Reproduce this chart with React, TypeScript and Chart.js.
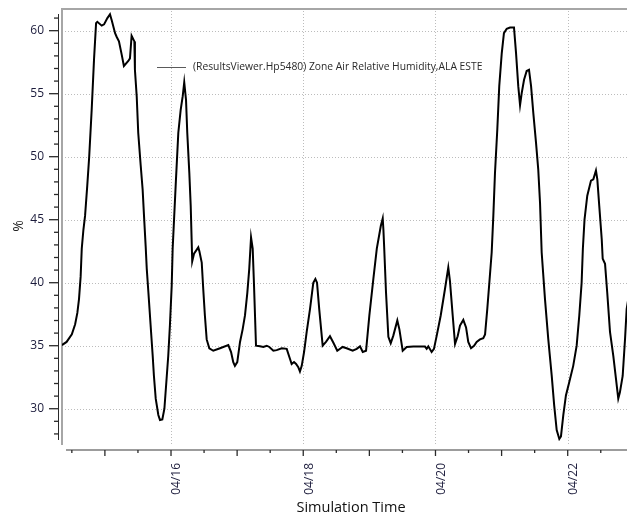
import React, { useEffect, useRef } from 'react';
import { Chart, registerables } from 'chart.js';

Chart.register(...registerables);

// Hours since 04/14 00:00
const hours = [
  8.4, 10.1, 12.0, 13.2, 14.0, 14.6, 15.2, 15.6, 16.2, 16.8, 17.6, 18.3, 19.2, 20.05, 20.8, 21.25,
  22.85, 23.7, 24.9, 25.85, 26.5, 27.7, 28.3, 29.1, 30.1, 30.9, 32.5, 33.1, 33.7, 34.7, 34.9, 35.55,
  36.1, 37.0, 37.7, 38.2, 38.8, 39.2, 39.8, 40.6, 41.35, 41.8, 42.45, 43.4, 44.0, 44.85, 45.6, 46.4,
  47.0, 47.6, 48.25, 48.6, 49.1, 49.8, 50.65, 51.5, 52.25, 52.8, 53.45, 53.9, 54.65, 55.15, 55.7, 56.35,
  57.9, 58.3, 59.15, 59.7, 60.3, 60.95, 61.9, 63.35, 65.8, 68.8, 69.8, 70.6, 71.2, 72.05, 73.05, 74.0,
  74.85, 75.7, 76.4, 77.05, 77.65, 78.1, 78.85, 80.3, 81.5, 82.75, 83.7, 85.15, 86.35, 88.2, 90.0, 91.2,
  91.8, 92.65, 93.4, 94.2, 94.8, 95.45, 96.3, 97.25, 98.45, 99.65, 100.4, 101.0, 101.8, 103.05, 104.25, 105.7,
  106.9, 108.35, 110.3, 111.75, 113.95, 115.4, 116.6, 117.6, 118.8, 120.0, 121.45, 122.7, 124.15, 124.85, 125.1, 125.4,
  126.05, 126.9, 127.75, 128.7, 130.15, 130.9, 132.1, 133.55, 135.95, 138.4, 140.2, 140.8, 141.4, 142.6, 143.45, 144.45,
  145.9, 147.45, 148.65, 149.25, 150.25, 151.1, 152.05, 152.9, 154.1, 155.1, 155.9, 156.9, 158.0, 158.95, 160.15, 161.35,
  162.0, 162.8, 163.55, 164.4, 165.0, 165.6, 166.45, 167.15, 168.05, 168.85, 169.85, 171.05, 172.5, 173.25, 174.05, 174.7,
  175.3, 176.15, 177.1, 177.95, 178.7, 179.5, 180.5, 181.3, 181.95, 182.55, 183.75, 184.95, 186.2, 187.1, 188.0, 188.95,
  189.55, 190.4, 191.35, 192.55, 194.0, 195.25, 196.2, 197.05, 197.5, 198.1, 199.1, 200.45, 201.3, 202.25, 202.75, 203.45,
  204.35, 204.7, 205.55, 206.35, 207.35, 208.55, 209.5, 210.35, 210.95, 211.95, 212.8, 213.4, 215.3, 218.5,
];

// Zone Air Relative Humidity (%)
const humidity = [
  35.05, 35.3, 35.9, 36.7, 37.6, 38.7, 40.5, 42.7, 44.2, 45.3, 47.7, 50.0, 53.7, 57.7, 60.6, 60.7,
  60.4, 60.5, 61.0, 61.3, 60.8, 59.8, 59.5, 59.15, 58.1, 57.2, 57.6, 57.8, 59.6, 59.15, 56.9, 54.8,
  51.9, 49.3, 47.4, 45.3, 42.9, 41.1, 39.2, 36.6, 34.2, 32.6, 30.8, 29.5, 29.1, 29.15, 30.0, 32.4,
  34.2, 36.6, 39.75, 42.7, 45.0, 48.2, 51.9, 53.7, 54.8, 55.9, 54.5, 51.9, 48.7, 46.1, 41.7, 42.3,
  42.8, 42.5, 41.6, 39.5, 37.4, 35.5, 34.8, 34.6, 34.8, 35.05, 34.5, 33.7, 33.4, 33.7, 35.3, 36.3,
  37.4, 39.2, 41.1, 43.6, 42.7, 40.0, 35.0, 34.95, 34.9, 35.0, 34.9, 34.6, 34.65, 34.8, 34.75, 33.95,
  33.55, 33.7, 33.55, 33.3, 32.95, 33.4, 34.5, 36.1, 37.9, 40.0, 40.3, 40.0, 37.9, 35.0, 35.3, 35.75,
  35.25, 34.6, 34.9, 34.8, 34.6, 34.75, 34.95, 34.5, 34.6, 37.4, 40.3, 42.7, 44.5, 45.1, 44.2, 42.7,
  39.2, 35.7, 35.2, 35.8, 37.0, 36.3, 34.6, 34.9, 34.93, 34.93, 34.93, 34.75, 34.95, 34.5, 34.75, 35.8,
  37.4, 39.5, 41.2, 40.15, 37.4, 35.15, 35.75, 36.6, 37.05, 36.45, 35.3, 34.8, 35.0, 35.3, 35.5, 35.6,
  35.9, 37.9, 40.0, 42.4, 45.3, 48.7, 52.2, 55.6, 58.2, 59.8, 60.15, 60.25, 60.25, 58.2, 55.6, 54.1,
  55.05, 56.1, 56.8, 56.9, 55.6, 53.5, 51.1, 49.0, 46.35, 42.4, 38.7, 35.5, 32.6, 30.25, 28.3, 27.6,
  27.8, 29.5, 31.05, 32.1, 33.4, 35.0, 37.4, 40.0, 42.7, 45.0, 46.9, 48.1, 48.2, 48.9, 48.2, 46.1,
  43.45, 41.9, 41.5, 39.2, 36.1, 34.2, 32.4, 30.8, 31.3, 32.6, 35.5, 37.9, 40.5, 43.0,
];

const seriesLabel = '(ResultsViewer.Hp5480) Zone Air Relative Humidity,ALA ESTE';
const xTitle = 'Simulation Time';
const yTitle = '%';
const xLabelHours = [48, 96, 144, 192];
const xLabels = ['04/16', '04/18', '04/20', '04/22'];
const yLabelValues = [30, 35, 40, 45, 50, 55, 60];
const xMin = 8.43;
const xMax = 218.24;
const yMin = 27.2;
const yMax = 61.8;

const FONT = '"Open Sans", "Liberation Sans", sans-serif';
const TICK_COLOR = '#1c1c3c';

const decor = {
  id: 'decor',
  beforeDatasetsDraw(chart: any) {
    const { ctx, chartArea: a, scales } = chart;
    const x = scales.x;
    const y = scales.y;
    ctx.save();
    // dotted grid
    ctx.strokeStyle = '#bcbcbc';
    ctx.lineWidth = 1;
    ctx.setLineDash([1, 2]);
    y.ticks.forEach((t: any) => {
      if (yLabelValues.includes(t.value)) {
        const py = Math.round(y.getPixelForValue(t.value)) + 0.5;
        ctx.beginPath();
        ctx.moveTo(a.left, py);
        ctx.lineTo(a.right, py);
        ctx.stroke();
      }
    });
    x.ticks.forEach((t: any) => {
      if (xLabelHours.includes(t.value)) {
        const px = Math.round(x.getPixelForValue(t.value)) + 0.5;
        ctx.beginPath();
        ctx.moveTo(px, a.top);
        ctx.lineTo(px, a.bottom);
        ctx.stroke();
      }
    });
    ctx.setLineDash([]);
    // plot frame (gray)
    ctx.fillStyle = '#a6a6a6';
    ctx.fillRect(a.left - 1, a.top, 2, a.bottom - a.top + 1);
    ctx.fillRect(a.left - 1, a.top, a.right - a.left + 1, 2);
    // y axis line + ticks
    ctx.fillStyle = '#2a2a2a';
    ctx.fillRect(a.left - 4, a.top + 6, 1, a.bottom - a.top - 10);
    ctx.strokeStyle = '#2a2a2a';
    ctx.lineWidth = 1.3;
    y.ticks.forEach((t: any) => {
      const py = y.getPixelForValue(t.value);
      const major = yLabelValues.includes(t.value);
      ctx.beginPath();
      ctx.moveTo(major ? a.left - 13 : a.left - 8, py);
      ctx.lineTo(a.left - 3, py);
      ctx.stroke();
    });
    // x axis line + ticks
    const ay = a.bottom + 5;
    ctx.fillStyle = '#9c9c9c';
    ctx.fillRect(a.left + 4, ay, a.right - a.left, 2);
    ctx.lineWidth = 1.3;
    x.ticks.forEach((t: any) => {
      const px = x.getPixelForValue(t.value);
      const day = t.value % 24 === 0;
      ctx.beginPath();
      ctx.moveTo(px, ay + 1);
      ctx.lineTo(px, ay + (day ? 7 : 4));
      ctx.stroke();
    });
    ctx.restore();
  },
  afterDatasetsDraw(chart: any) {
    const { ctx } = chart;
    ctx.save();
    ctx.fillStyle = '#5a5a5a';
    ctx.fillRect(157, 67, 29, 1);
    ctx.font = `10.3px ${FONT}`;
    ctx.fillStyle = '#2a2a2a';
    ctx.textBaseline = 'middle';
    ctx.textAlign = 'left';
    ctx.fillText(chart.data.datasets[0].label, 193, 67);
    ctx.restore();
  },
};

export default function App() {
  const ref = useRef<HTMLCanvasElement | null>(null);

  useEffect(() => {
    document.body.style.margin = '0';
    document.body.style.overflow = 'hidden';
    const canvas = ref.current;
    if (!canvas) return;
    const chart = new Chart(canvas, {
      type: 'line',
      data: {
        datasets: [
          {
            label: seriesLabel,
            data: hours.map((h, i) => ({ x: h, y: humidity[i] })),
            borderColor: '#000000',
            borderWidth: 2,
            pointRadius: 0,
            tension: 0,
            fill: false,
          },
        ],
      },
      options: {
        animation: false,
        responsive: false,
        devicePixelRatio: 1,
        layout: { padding: { top: 8, left: 0, right: 0, bottom: 0 } },
        plugins: {
          legend: { display: false },
          tooltip: { enabled: false },
        },
        scales: {
          x: {
            type: 'linear',
            min: xMin,
            max: xMax,
            grid: { display: false, drawTicks: false, tickLength: 0 },
            border: { display: false },
            ticks: {
              stepSize: 12,
              autoSkip: false,
              includeBounds: false,
              minRotation: 90,
              maxRotation: 90,
              padding: 19,
              labelOffset: 6,
              color: TICK_COLOR,
              font: { family: FONT, size: 12 },
              callback: (v: any) => {
                const i = xLabelHours.indexOf(Number(v));
                return i >= 0 ? xLabels[i] : '';
              },
            },
            title: {
              display: true,
              text: xTitle,
              color: '#111111',
              font: { family: FONT, size: 14.5 },
              padding: { top: 0, bottom: -2 },
            },
            afterFit: (s: any) => {
              s.height = 71;
              s.paddingLeft = 0;
              s.paddingRight = 0;
            },
          },
          y: {
            type: 'linear',
            min: yMin,
            max: yMax,
            grid: { display: false, drawTicks: false, tickLength: 0 },
            border: { display: false },
            ticks: {
              stepSize: 1,
              autoSkip: false,
              includeBounds: false,
              padding: 18,
              color: TICK_COLOR,
              font: { family: FONT, size: 12 },
              callback: (v: any) => (yLabelValues.includes(Number(v)) ? String(v) : ''),
            },
            title: {
              display: true,
              text: yTitle,
              color: '#222222',
              font: { family: FONT, size: 14 },
              padding: { top: 11, bottom: 0 },
            },
            afterFit: (s: any) => {
              s.width = 62;
              s.paddingTop = 0;
              s.paddingBottom = 0;
            },
          },
        },
      },
      plugins: [decor],
    });
    return () => chart.destroy();
  }, []);

  return (
    <div style={{ width: 627, height: 515, overflow: 'hidden', position: 'relative', background: '#ffffff' }}>
      <canvas ref={ref} width={640} height={515} style={{ display: 'block' }} />
    </div>
  );
}
